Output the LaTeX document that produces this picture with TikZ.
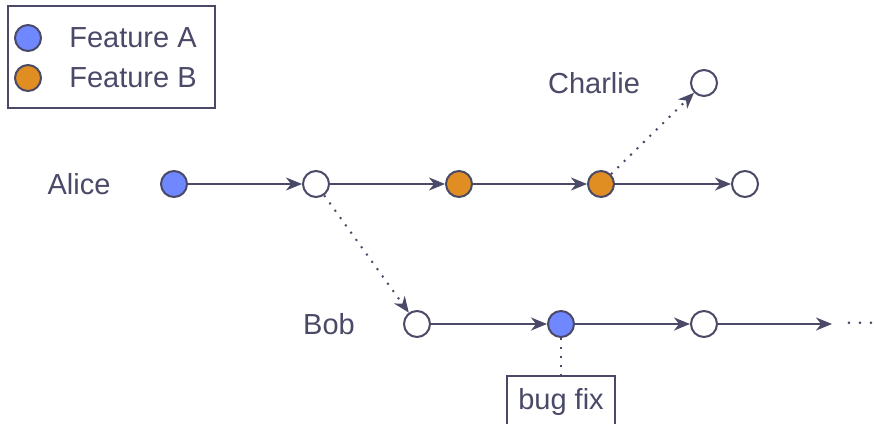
\documentclass[tikz,border=0pt]{standalone}
\usepackage{fontspec}
\setmainfont{Liberation Sans}
\usetikzlibrary{arrows.meta}
\definecolor{ink}{RGB}{74,74,104}
\definecolor{featA}{RGB}{112,136,255}
\definecolor{featB}{RGB}{224,142,34}
\tikzset{
  commit/.style={circle,draw=ink,line width=2pt,minimum size=26pt,inner sep=0pt,fill=white},
  lbl/.style={text=ink,font=\fontsize{29}{34}\selectfont},
  flow/.style={draw=ink,line width=2pt,-{Stealth[length=16pt,width=13pt,inset=5pt]}},
  branch/.style={flow,dash pattern=on 2pt off 7pt}
}
\begin{document}
\begin{tikzpicture}[x=1pt,y=-1pt]
    \clip (0,0) rectangle (874,423);
    \node[draw=ink,line width=2pt,minimum width=207pt,minimum height=102pt] (legend) at (111.5,57) {};
    \node[commit,fill=featA] (keyA) at (28,38) {};
    \node[commit,fill=featB] (keyB) at (28,78) {};
    \node[lbl] (keyAtxt) at (133,38) {Feature A};
    \node[lbl] (keyBtxt) at (133,78) {Feature B};
    \node[lbl] (alice) at (79,184) {Alice};
    \node[lbl] (charlie) at (594,83) {Charlie};
    \node[lbl] (bob) at (329,324) {Bob};
    \node[commit,fill=featA] (a1) at (174,184) {};
    \node[commit] (a2) at (316,184) {};
    \node[commit,fill=featB] (a3) at (459,184) {};
    \node[commit,fill=featB] (a4) at (601,184) {};
    \node[commit] (a5) at (745,184) {};
    \node[commit] (c1) at (704,83) {};
    \node[commit] (b1) at (417,324) {};
    \node[commit,fill=featA] (b2) at (561,324) {};
    \node[commit] (b3) at (704,324) {};
    \coordinate (bend) at (832,324);
    \node[lbl] (more) at (860,324) {$\cdots$};
    \node[lbl,draw=ink,line width=2pt,anchor=north,inner xsep=11pt,inner ysep=9pt,text height=24pt,text depth=40pt] (fix) at (561,375) {bug fix};
    \draw[flow] (a1)--(a2);
    \draw[flow] (a2)--(a3);
    \draw[flow] (a3)--(a4);
    \draw[flow] (a4)--(a5);
    \draw[branch] (a4)--(c1);
    \draw[branch] (a2)--(b1);
    \draw[flow] (b1)--(b2);
    \draw[flow] (b2)--(b3);
    \draw[flow] (b3)--(bend);
    \draw[ink,line width=2pt,dash pattern=on 2pt off 7pt] (b2)--(fix);
\end{tikzpicture}
\end{document}
